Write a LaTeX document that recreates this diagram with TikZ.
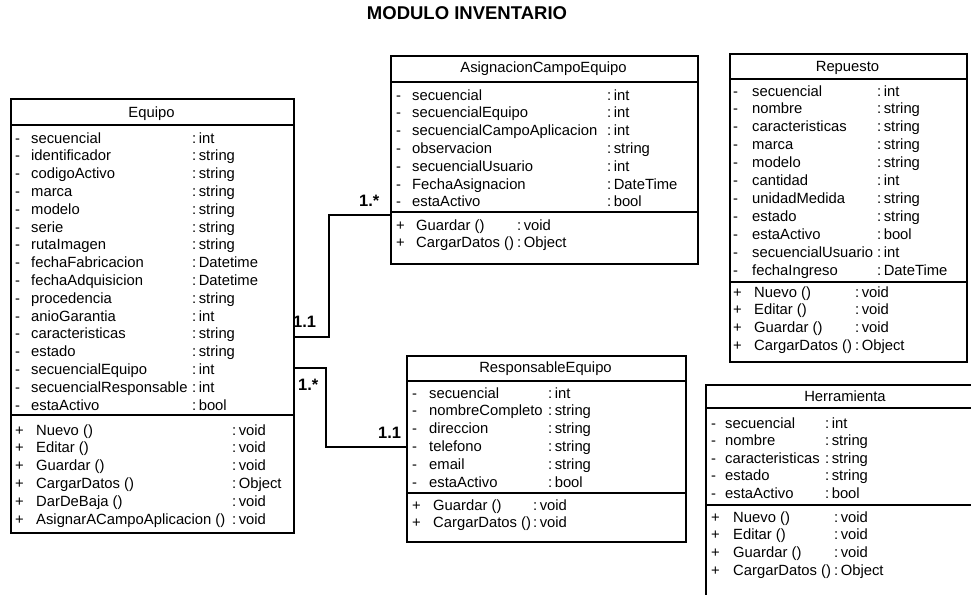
\documentclass[tikz,border=0pt]{standalone}
\usepackage{fontspec}
\setmainfont{Liberation Sans}

\newcommand{\bodyfont}{\fontsize{14.8}{17.8}\selectfont}
\newcommand{\labelfont}{\fontsize{16.5}{19}\selectfont\bfseries}
\newcommand{\headfont}{\fontsize{18.5}{22}\selectfont\bfseries}

% rows of a class compartment: prefix, sign, sign x, name x, colon x, first baseline, step, name/type list
\newcommand{\fieldrows}[8]{%
  \foreach \nm/\ty [count=\k from 0] in {#8} {
    \node[txt] (#1s\k) at (#3,{-(#6)-(#7)*\k}) {#2};
    \node[txt] (#1n\k) at (#4,{-(#6)-(#7)*\k}) {\nm};
    \node[txt] (#1t\k) at (#5,{-(#6)-(#7)*\k}) {:\,\ty};
  }}

\tikzset{
  classbox/.style={draw, line width=2pt, inner sep=0pt, anchor=north west},
  sep/.style={line width=2pt},
  conn/.style={line width=2pt},
  txt/.style={inner sep=0pt, anchor=base west, font=\bodyfont},
  ctitle/.style={inner sep=0pt, anchor=base, font=\bodyfont},
  mult/.style={inner sep=0pt, anchor=base west, font=\labelfont},
}

\begin{document}
\begin{tikzpicture}[x=1pt,y=1pt]
\clip (0,0) rectangle (971,-594);
\fill[white] (0,0) rectangle (971,-594);

\node[inner sep=0pt, anchor=base, font=\headfont] (head) at (467,-20) {MODULO INVENTARIO};

% ---------- Equipo ----------
\node[classbox, minimum width=283pt, minimum height=434pt] (equipo) at (10,-98) {};
\draw[sep] ([yshift=-27pt]equipo.north west) -- ([yshift=-27pt]equipo.north east);
\draw[sep] ([yshift=-317pt]equipo.north west) -- ([yshift=-317pt]equipo.north east);
\node[ctitle] (equipoT) at (151.5,-117) {Equipo};
\fieldrows{ea}{-}{15}{31}{192}{143}{17.8}{secuencial/int, identificador/string, codigoActivo/string, marca/string, modelo/string, serie/string, rutaImagen/string, fechaFabricacion/Datetime, fechaAdquisicion/Datetime, procedencia/string, anioGarantia/int, caracteristicas/string, estado/string, secuencialEquipo/int, secuencialResponsable/int, estaActivo/bool}
\fieldrows{em}{+}{15}{36}{232}{435}{17.8}{Nuevo ()/void, Editar ()/void, Guardar ()/void, CargarDatos ()/Object, DarDeBaja ()/void, AsignarACampoAplicacion ()/void}

% ---------- AsignacionCampoEquipo ----------
\node[classbox, minimum width=307pt, minimum height=208pt] (asig) at (390,-55) {};
\draw[sep] ([yshift=-27pt]asig.north west) -- ([yshift=-27pt]asig.north east);
\draw[sep] ([yshift=-157pt]asig.north west) -- ([yshift=-157pt]asig.north east);
\node[ctitle] (asigT) at (543.5,-73) {AsignacionCampoEquipo};
\fieldrows{aa}{-}{396}{412}{607}{100}{17.8}{secuencial/int, secuencialEquipo/int, secuencialCampoAplicacion/int, observacion/string, secuencialUsuario/int, FechaAsignacion/DateTime, estaActivo/bool}
\fieldrows{am}{+}{396}{416}{517}{230}{17.8}{Guardar ()/void, CargarDatos ()/Object}

% ---------- Repuesto ----------
\node[classbox, minimum width=237pt, minimum height=308pt] (rep) at (729,-53) {};
\draw[sep] ([yshift=-26pt]rep.north west) -- ([yshift=-26pt]rep.north east);
\draw[sep] ([yshift=-229pt]rep.north west) -- ([yshift=-229pt]rep.north east);
\node[ctitle] (repT) at (847.5,-71) {Repuesto};
\fieldrows{ra}{-}{733}{752}{877}{96}{17.9}{secuencial/int, nombre/string, caracteristicas/string, marca/string, modelo/string, cantidad/int, unidadMedida/string, estado/string, estaActivo/bool, secuencialUsuario/int, fechaIngreso/DateTime}
\fieldrows{rm}{+}{733}{754}{855}{297}{17.7}{Nuevo ()/void, Editar ()/void, Guardar ()/void, CargarDatos ()/Object}

% ---------- ResponsableEquipo ----------
\node[classbox, minimum width=279pt, minimum height=186pt] (resp) at (406,-355) {};
\draw[sep] ([yshift=-26pt]resp.north west) -- ([yshift=-26pt]resp.north east);
\draw[sep] ([yshift=-138pt]resp.north west) -- ([yshift=-138pt]resp.north east);
\node[ctitle] (respT) at (545.5,-372) {ResponsableEquipo};
\fieldrows{pa}{-}{412}{429}{548}{398}{17.8}{secuencial/int, nombreCompleto/string, direccion/string, telefono/string, email/string, estaActivo/bool}
\fieldrows{pm}{+}{412}{433}{533}{510}{17.8}{Guardar ()/void, CargarDatos ()/void}

% ---------- Herramienta ----------
\node[classbox, minimum width=280pt, minimum height=226pt] (herr) at (705,-384) {};
\draw[sep] ([yshift=-24pt]herr.north west) -- ([yshift=-24pt]herr.north east);
\draw[sep] ([yshift=-121pt]herr.north west) -- ([yshift=-121pt]herr.north east);
\node[ctitle] (herrT) at (845,-401) {Herramienta};
\fieldrows{ha}{-}{711}{725}{825}{428}{17.6}{secuencial/int, nombre/string, caracteristicas/string, estado/string, estaActivo/bool}
\fieldrows{hm}{+}{711}{733}{834}{522}{17.7}{Nuevo ()/void, Editar ()/void, Guardar ()/void, CargarDatos ()/Object}

% ---------- associations ----------
\draw[conn] ([yshift=-239pt]equipo.north east) -- ++(34,0) |- ([yshift=-160pt]asig.north west);
\draw[conn] ([yshift=-270pt]equipo.north east) -- ++(31,0) |- ([yshift=-92pt]resp.north west);

\node[mult] (m1) at (359,-206) {1.*};
\node[mult] (m2) at (293,-327) {1.1};
\node[mult] (m3) at (298,-390) {1.*};
\node[mult] (m4) at (378,-438) {1.1};
\end{tikzpicture}
\end{document}
